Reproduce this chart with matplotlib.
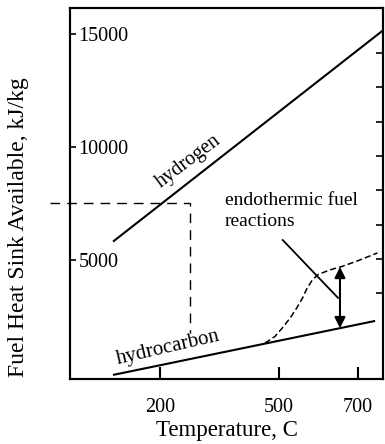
import matplotlib.pyplot as plt

plt.rcParams['font.family'] = ['Liberation Serif', 'DejaVu Serif']

# hydrogen and hydrocarbon heat sink lines (temperature C, kJ/kg)
h2_x = [80, 764]
h2_y = [5800, 15150]
hc_x = [80, 744]
hc_y = [-100, 2290]

# endothermic reactions curve (dashed)
endo_x = [465, 490, 510, 530, 545, 560, 572, 585, 600, 630, 660, 700, 750]
endo_y = [1310, 1600, 2000, 2450, 2850, 3300, 3750, 4100, 4350, 4550, 4700, 4950, 5300]

# dashed guide for the 7500 kJ/kg level
guide_x = [-80, 275, 275]
guide_y = [7500, 7500, 1760]

xticks = [200, 500, 700]
yticks = [5000, 10000, 15000]
right_ticks = [14150, 12630, 11110, 9590, 8070, 6550, 5030, 3510]

fig = plt.figure(figsize=(3.85, 4.44), dpi=100)
ax = fig.add_axes([0.1818, 0.1464, 0.813, 0.8356])

ax.plot(h2_x, h2_y, color='k', lw=1.5, solid_capstyle='butt')
ax.plot(hc_x, hc_y, color='k', lw=1.5, solid_capstyle='butt')
ax.plot(endo_x, endo_y, color='k', lw=1.1, ls=(0, (4, 2)))
ax.plot(guide_x, guide_y, color='k', lw=1.0, ls=(0, (7, 5)), clip_on=False)

# leader line from the label to the curve
ax.plot([510, 650], [5870, 3310], color='k', lw=1.3)
# double arrow between curves
ax.annotate('', xy=(655, 4680), xytext=(655, 1970),
            arrowprops=dict(arrowstyle='<|-|>', color='k', lw=1.5,
                            mutation_scale=16, shrinkA=0, shrinkB=0))

ax.text(272, 9350, 'hydrogen', rotation=37, fontsize=14.5,
        ha='center', va='center', rotation_mode='anchor')
ax.text(219, 1100, 'hydrocarbon', rotation=13, fontsize=15,
        ha='center', va='center', rotation_mode='anchor')
ax.text(363, 8000, 'endothermic fuel\nreactions', fontsize=14,
        ha='left', va='top', linespacing=1.3)

ax.set_xlim(-29, 764)
ax.set_ylim(-280, 16140)
ax.set_xticks(xticks)
ax.set_yticks(yticks)
ax.tick_params(axis='x', direction='in', length=9, width=1.5, pad=14,
               labelsize=14.5)
ax.tick_params(axis='y', direction='in', length=4.5, width=1.2, pad=-6,
               labelsize=14.5)
for lab in ax.get_yticklabels():
    lab.set_horizontalalignment('left')

ax2 = ax.twinx()
ax2.set_ylim(ax.get_ylim())
ax2.set_yticks(right_ticks)
ax2.tick_params(axis='y', direction='in', length=5, width=1.2,
                labelright=False)

for a in (ax, ax2):
    for sp in a.spines.values():
        sp.set_linewidth(1.5)

ax.set_xlabel('Temperature, C', fontsize=16.5, labelpad=2)
ax.set_ylabel('Fuel Heat Sink Available, kJ/kg', fontsize=17)
ax.yaxis.set_label_coords(-0.131, 0.41)

fig.savefig('out.png', dpi=100)
